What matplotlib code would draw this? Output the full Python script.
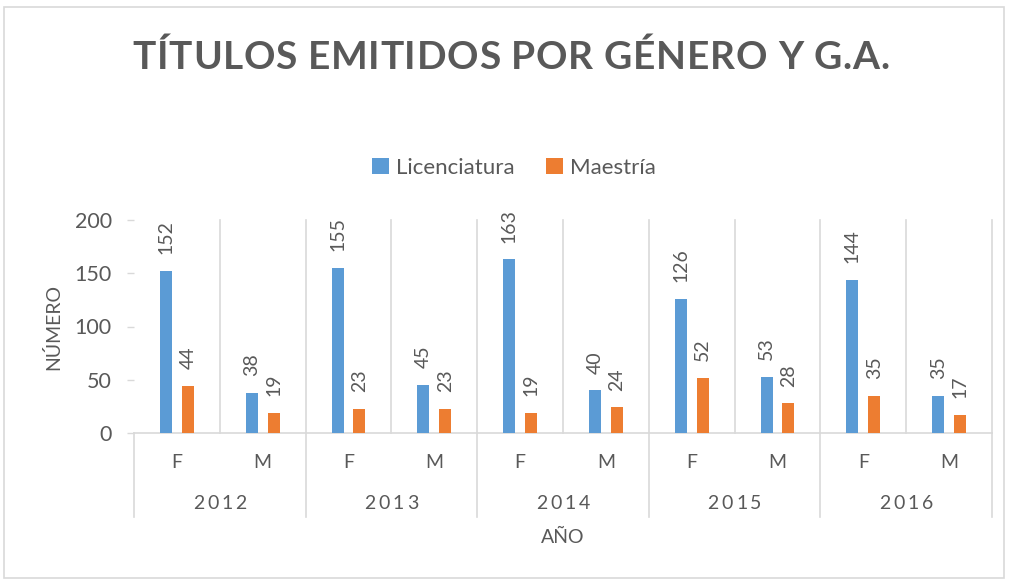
import matplotlib
matplotlib.use("Agg")
import matplotlib.pyplot as plt
from matplotlib.patches import Rectangle
import numpy as np

W, H = 1011, 581

years = ["2012", "2013", "2014", "2015", "2016"]
genders = ["F", "M"]
licenciatura = [152, 38, 155, 45, 163, 40, 126, 53, 144, 35]
maestria = [44, 19, 23, 23, 19, 24, 52, 28, 35, 17]

BLUE = "#5B9BD5"
ORANGE = "#ED7D31"
GRID = "#D9D9D9"
TXT = "#595959"

plt.rcParams["font.family"] = ["Lato", "DejaVu Sans"]

# plot area in pixels
X0, X1, Y0, Y1 = 134, 992, 433, 220


def fx(px):
    return px / W


def fy(py):
    return 1 - py / H


def spaced_text(fig, xc, y_base, s, width, **kw):
    # matplotlib has no letter spacing, so place characters one by one
    r = fig.canvas.get_renderer()
    widths = []
    for ch in s:
        if ch == " ":
            a = fig.text(0, 0, "nn", **kw)
            b = fig.text(0, 0, "n n", **kw)
            w = b.get_window_extent(r).width - a.get_window_extent(r).width
            a.remove()
            b.remove()
        else:
            t = fig.text(0, 0, ch, **kw)
            w = t.get_window_extent(r).width
            t.remove()
        widths.append(w)
    gap = (width - sum(widths)) / (len(s) - 1)
    cur = xc - width / 2
    for ch, w in zip(s, widths):
        if ch != " ":
            fig.text(fx(cur), fy(y_base), ch, ha="left", va="baseline", **kw)
        cur += w + gap


fig = plt.figure(figsize=(W / 100, H / 100), dpi=100)
fig.patches.append(Rectangle((fx(4), fy(578)), fx(1004) - fx(4), fy(7) - fy(578),
                             transform=fig.transFigure, fill=False,
                             edgecolor=GRID, linewidth=1.2))

ax = fig.add_axes([fx(X0), fy(Y0), fx(X1) - fx(X0), fy(Y1) - fy(Y0)])

x = np.arange(len(licenciatura))
bw = 0.14
off = 0.127
b1 = ax.bar(x - off, licenciatura, bw, color=BLUE, label="Licenciatura", zorder=3)
b2 = ax.bar(x + off, maestria, bw, color=ORANGE, label="Maestría", zorder=3)

for bars, vals in ((b1, licenciatura), (b2, maestria)):
    for rect, v in zip(bars, vals):
        ax.annotate(str(v), (rect.get_x() + rect.get_width() / 2, v),
                    xytext=(0, 12), textcoords="offset points",
                    rotation=90, ha="center", va="bottom",
                    fontsize=14, color=TXT)

ax.set_xlim(-0.5, len(x) - 0.5)
ax.set_ylim(0, 200)
ax.set_yticks([0, 50, 100, 150, 200])
ax.tick_params(axis="y", length=5, width=1, color=GRID, pad=11,
               labelsize=15.5, labelcolor=TXT)
ax.set_xticks([])
for s in ("top", "right", "left"):
    ax.spines[s].set_visible(False)
ax.spines["bottom"].set_color(GRID)
ax.spines["bottom"].set_linewidth(1.2)

# vertical gridlines at category boundaries
for i in range(len(x)):
    ax.plot([i + 0.5, i + 0.5], [0, 1], color=GRID, lw=1.2,
            transform=ax.get_xaxis_transform(), zorder=1, clip_on=False)

# two-level category axis: year separators run below the axis
ext = -(517 - Y0) / (Y0 - Y1)
for k in range(len(years) + 1):
    xb = 2 * k - 0.5
    ax.plot([xb, xb], [0, ext], color=GRID, lw=1.2,
            transform=ax.get_xaxis_transform(), clip_on=False)

for i in range(len(x)):
    xp = X0 + (i + 0.5) * (X1 - X0) / len(x)
    fig.text(fx(xp), fy(463), genders[i % 2], ha="center", va="center",
             fontsize=14, color=TXT)

for k, yr in enumerate(years):
    xp = X0 + (2 * k + 1) * (X1 - X0) / len(x)
    spaced_text(fig, xp, 509, yr, 54, fontsize=14, color=TXT)

fig.text(fx(563), fy(537), "AÑO", ha="center", va="center", fontsize=14, color=TXT)
fig.text(fx(53), fy(327), "NÚMERO", ha="center", va="center", rotation=90,
         fontsize=14, color=TXT)

spaced_text(fig, 511, 69, "TÍTULOS EMITIDOS POR GÉNERO Y G.A.", 757,
            fontsize=28, fontweight="bold", color=TXT)

ax.legend(handles=[b1, b2], loc="center", bbox_to_anchor=(fx(514), fy(168)),
          bbox_transform=fig.transFigure, ncol=2, frameon=False,
          fontsize=16, labelcolor=TXT, handlelength=0.75, handleheight=0.75,
          handletextpad=0.3, columnspacing=1.45)

fig.savefig("out.png", dpi=100)
